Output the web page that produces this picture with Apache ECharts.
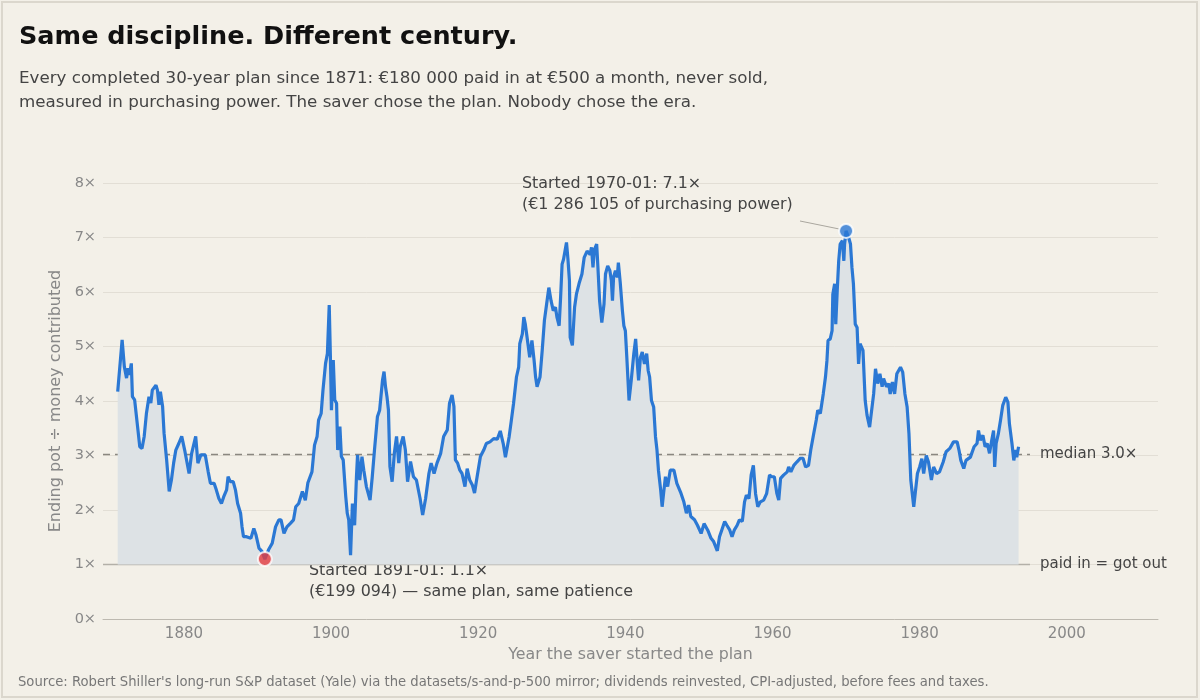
<!DOCTYPE html>
<html>
<head>
<meta charset="utf-8">
<script src="https://cdn.jsdelivr.net/npm/echarts@6/dist/echarts.min.js"></script>
<style>
  html, body { margin: 0; padding: 0; background: #f3f0e8; }
  #chart { width: 1200px; height: 700px; }
</style>
</head>
<body>
<div id="chart"></div>
<script>
// year the plan started (fractional) and ending pot / money paid in
var startYears = [
  1871.0, 1871.6, 1871.9, 1872.2, 1872.4, 1872.6, 1872.85, 1873.0, 1873.3, 1873.7,
  1874.0, 1874.3, 1874.6, 1874.9, 1875.25, 1875.5, 1875.7, 1876.2, 1876.4, 1876.6,
  1876.8, 1877.1, 1877.3, 1877.65, 1878.0, 1878.3, 1878.6, 1878.9, 1879.3, 1879.7,
  1880.1, 1880.7, 1881.05, 1881.6, 1881.9, 1882.3, 1882.9, 1883.3, 1883.6, 1884.1,
  1884.4, 1884.75, 1885.1, 1885.4, 1885.8, 1886.0, 1886.3, 1886.7, 1887.0, 1887.3,
  1887.7, 1887.9, 1888.1, 1888.5, 1889.1, 1889.5, 1889.8, 1890.2, 1890.6, 1891.0,
  1891.5, 1892.0, 1892.45, 1892.9, 1893.2, 1893.6, 1894.0, 1894.5, 1894.9, 1895.2,
  1895.6, 1896.1, 1896.5, 1896.85, 1897.4, 1897.75, 1898.1, 1898.3, 1898.65, 1898.9,
  1899.25, 1899.5, 1899.75, 1899.9, 1900.05, 1900.3, 1900.5, 1900.75, 1900.9, 1901.2,
  1901.4, 1901.65, 1902.0, 1902.2, 1902.4, 1902.65, 1902.9, 1903.2, 1903.45, 1903.6,
  1903.9, 1904.2, 1904.45, 1904.8, 1905.3, 1905.6, 1905.9, 1906.3, 1906.6, 1907.0,
  1907.2, 1907.4, 1907.6, 1907.8, 1908.0, 1908.3, 1908.6, 1908.9, 1909.2, 1909.4,
  1909.8, 1910.1, 1910.4, 1910.8, 1911.2, 1911.6, 1912.1, 1912.45, 1912.85, 1913.3,
  1913.6, 1914.0, 1914.4, 1914.9, 1915.3, 1915.8, 1916.1, 1916.45, 1916.7, 1916.9,
  1917.2, 1917.5, 1917.8, 1918.2, 1918.5, 1918.85, 1919.2, 1919.5, 1919.85, 1920.3,
  1920.75, 1921.1, 1921.6, 1922.1, 1922.6, 1923.0, 1923.4, 1923.7, 1924.2, 1924.5,
  1924.8, 1925.2, 1925.5, 1925.65, 1926.0, 1926.2, 1926.4, 1926.7, 1927.0, 1927.3,
  1927.6, 1927.8, 1928.0, 1928.4, 1928.7, 1929.0, 1929.3, 1929.6, 1929.9, 1930.2,
  1930.5, 1930.7, 1931.0, 1931.2, 1931.4, 1931.6, 1932.0, 1932.2, 1932.4, 1932.5,
  1932.8, 1933.1, 1933.35, 1933.7, 1933.9, 1934.1, 1934.4, 1934.8, 1935.2, 1935.4,
  1935.6, 1935.8, 1936.1, 1936.25, 1936.5, 1936.8, 1937.1, 1937.3, 1937.6, 1937.9,
  1938.1, 1938.25, 1938.4, 1938.65, 1938.9, 1939.05, 1939.3, 1939.6, 1939.8, 1940.0,
  1940.2, 1940.5, 1940.8, 1941.15, 1941.4, 1941.6, 1941.8, 1942.05, 1942.3, 1942.6,
  1942.9, 1943.1, 1943.3, 1943.55, 1943.85, 1944.1, 1944.3, 1944.5, 1944.8, 1945.0,
  1945.2, 1945.45, 1945.75, 1946.1, 1946.6, 1947.0, 1947.5, 1947.95, 1948.3, 1948.6,
  1948.9, 1949.4, 1949.8, 1950.3, 1950.7, 1951.2, 1951.65, 1952.0, 1952.5, 1952.8,
  1953.1, 1953.5, 1953.8, 1954.2, 1954.5, 1954.8, 1955.2, 1955.5, 1955.9, 1956.2,
  1956.45, 1956.8, 1957.1, 1957.4, 1957.7, 1958.0, 1958.35, 1958.8, 1959.2, 1959.6,
  1959.9, 1960.25, 1960.6, 1960.85, 1961.1, 1961.5, 1962.0, 1962.2, 1962.5, 1962.9,
  1963.3, 1963.8, 1964.15, 1964.5, 1964.9, 1965.2, 1965.6, 1965.95, 1966.15, 1966.5,
  1966.9, 1967.2, 1967.4, 1967.55, 1967.85, 1968.1, 1968.2, 1968.45, 1968.6, 1968.8,
  1969.0, 1969.2, 1969.5, 1969.7, 1969.8, 1970.0, 1970.35, 1970.6, 1970.8, 1971.0,
  1971.25, 1971.5, 1971.7, 1971.9, 1972.3, 1972.6, 1972.85, 1973.2, 1973.75, 1974.0,
  1974.3, 1974.6, 1974.9, 1975.1, 1975.5, 1975.8, 1976.0, 1976.3, 1976.6, 1976.9,
  1977.4, 1977.7, 1978.0, 1978.3, 1978.55, 1978.8, 1979.2, 1979.5, 1979.7, 1980.0,
  1980.3, 1980.55, 1980.9, 1981.2, 1981.6, 1981.9, 1982.3, 1982.7, 1983.2, 1983.6,
  1984.1, 1984.6, 1985.1, 1985.35, 1985.6, 1986.0, 1986.3, 1986.9, 1987.4, 1987.8,
  1988.0, 1988.25, 1988.6, 1988.9, 1989.2, 1989.5, 1989.8, 1990.05, 1990.2, 1990.4,
  1990.7, 1991.0, 1991.3, 1991.7, 1992.0, 1992.2, 1992.55, 1992.8, 1993.05, 1993.2,
  1993.45
];
var multiples = [
  4.17, 5.12, 4.63, 4.42, 4.60, 4.48, 4.69, 4.08, 4.02, 3.53,
  3.16, 3.13, 3.35, 3.77, 4.08, 3.96, 4.20, 4.29, 4.20, 3.93,
  4.17, 3.90, 3.41, 2.92, 2.34, 2.55, 2.86, 3.10, 3.22, 3.35,
  3.10, 2.67, 3.04, 3.35, 2.86, 3.01, 3.01, 2.70, 2.49, 2.49,
  2.37, 2.21, 2.12, 2.24, 2.37, 2.61, 2.52, 2.52, 2.37, 2.12,
  1.94, 1.69, 1.51, 1.51, 1.48, 1.66, 1.54, 1.30, 1.24, 1.10,
  1.27, 1.39, 1.69, 1.82, 1.82, 1.57, 1.69, 1.76, 1.82, 2.06,
  2.12, 2.34, 2.18, 2.50, 2.70, 3.19, 3.35, 3.65, 3.77, 4.20,
  4.69, 4.87, 5.76, 4.87, 3.83, 4.75, 4.02, 3.96, 3.10, 3.53,
  2.98, 2.92, 2.24, 1.94, 1.82, 1.17, 2.12, 1.72, 2.61, 3.01,
  2.55, 2.98, 2.73, 2.43, 2.18, 2.61, 3.10, 3.71, 3.83, 4.39,
  4.54, 4.26, 4.08, 3.83, 2.80, 2.52, 3.04, 3.35, 2.86, 3.16,
  3.35, 3.10, 2.52, 2.89, 2.61, 2.55, 2.21, 1.91, 2.21, 2.67,
  2.86, 2.67, 2.86, 3.04, 3.35, 3.47, 3.96, 4.11, 3.90, 2.92,
  2.86, 2.73, 2.67, 2.43, 2.76, 2.55, 2.46, 2.31, 2.61, 2.98,
  3.10, 3.22, 3.25, 3.31, 3.30, 3.45, 3.22, 2.97, 3.34, 3.64,
  3.95, 4.44, 4.62, 5.05, 5.23, 5.54, 5.41, 5.11, 4.80, 5.11,
  4.74, 4.44, 4.26, 4.44, 4.93, 5.48, 5.78, 6.08, 5.84, 5.66,
  5.72, 5.54, 5.38, 5.90, 6.51, 6.60, 6.91, 6.60, 6.21, 5.17,
  5.02, 5.72, 5.96, 6.15, 6.15, 6.33, 6.63, 6.75, 6.69, 6.82,
  6.45, 6.78, 6.88, 6.51, 5.84, 5.44, 5.78, 6.33, 6.48, 6.39,
  6.21, 5.84, 6.27, 6.39, 6.27, 6.54, 6.18, 5.66, 5.38, 5.29,
  4.80, 4.01, 4.38, 4.87, 5.14, 4.74, 4.38, 4.80, 4.90, 4.68,
  4.87, 4.56, 4.44, 4.01, 3.89, 3.34, 3.10, 2.73, 2.37, 2.06,
  2.31, 2.61, 2.43, 2.73, 2.73, 2.49, 2.33, 2.15, 1.94, 2.09,
  1.88, 1.82, 1.72, 1.57, 1.75, 1.63, 1.48, 1.42, 1.25, 1.51,
  1.63, 1.79, 1.72, 1.63, 1.51, 1.63, 1.72, 1.82, 1.79, 2.15,
  2.27, 2.21, 2.64, 2.82, 2.30, 2.06, 2.15, 2.18, 2.30, 2.64,
  2.61, 2.61, 2.30, 2.18, 2.58, 2.64, 2.70, 2.79, 2.70, 2.82,
  2.88, 2.95, 2.95, 2.79, 2.82, 3.10, 3.40, 3.65, 3.83, 3.77,
  4.13, 4.44, 4.74, 5.11, 5.14, 5.29, 5.96, 6.15, 5.41, 6.03,
  6.57, 6.88, 6.94, 6.57, 6.88, 7.12, 7.00, 6.88, 6.45, 6.15,
  5.41, 5.35, 4.68, 5.05, 4.93, 4.01, 3.74, 3.52, 4.13, 4.59,
  4.32, 4.50, 4.26, 4.41, 4.26, 4.32, 4.13, 4.35, 4.13, 4.50,
  4.62, 4.53, 4.13, 3.89, 3.40, 2.55, 2.06, 2.43, 2.67, 2.79,
  2.94, 2.67, 3.00, 2.88, 2.55, 2.79, 2.67, 2.70, 2.88, 3.07,
  3.13, 3.25, 3.25, 3.10, 2.91, 2.76, 2.91, 2.97, 3.16, 3.22,
  3.46, 3.28, 3.37, 3.16, 3.22, 3.04, 3.28, 3.46, 2.79, 3.22,
  3.40, 3.65, 3.92, 4.07, 3.98, 3.59, 3.22, 2.91, 3.10, 2.97,
  3.16
];
var xTicks = [1880, 1900, 1920, 1940, 1960, 1980, 2000];
var medianMultiple = 3.02;
var best = [1970.0, 7.12];
var worst = [1891.0, 1.10];

var FONT = '"DejaVu Sans", sans-serif';
var points = [];
for (var i = 0; i < startYears.length; i++) points.push([startYears[i], multiples[i]]);

var chart = echarts.init(document.getElementById('chart'));
var option = {
  backgroundColor: '#f3f0e8',
  animation: false,
  textStyle: { fontFamily: FONT },
  title: {
    text: 'Same discipline. Different century.',
    subtext: 'Every completed 30-year plan since 1871: €180 000 paid in at €500 a month, never sold,\nmeasured in purchasing power. The saver chose the plan. Nobody chose the era.',
    left: 14,
    top: 19,
    itemGap: 17,
    textStyle: { fontFamily: FONT, fontSize: 25.5, fontWeight: 'bold', color: '#111' },
    subtextStyle: { fontFamily: FONT, fontSize: 16.7, color: '#444', lineHeight: 24 }
  },
  grid: { left: 103, right: 42, top: 183, bottom: 81 },
  xAxis: {
    type: 'value',
    min: 1869,
    max: 2012.4,
    name: 'Year the saver started the plan',
    nameLocation: 'middle',
    nameGap: 28,
    nameTextStyle: { fontFamily: FONT, fontSize: 15.8, color: '#888' },
    axisLine: { lineStyle: { color: '#bdb9b0' } },
    axisTick: { show: false },
    splitLine: { show: false },
    axisLabel: {
      customValues: xTicks,
      fontFamily: FONT, fontSize: 15, color: '#888', margin: 8,
      formatter: function (v) { return String(v); }
    }
  },
  yAxis: {
    type: 'value',
    min: 0,
    max: 8,
    interval: 1,
    name: 'Ending pot ÷ money contributed',
    nameLocation: 'middle',
    nameGap: 35,
    nameTextStyle: { fontFamily: FONT, fontSize: 16, color: '#888' },
    axisLine: { show: false },
    axisTick: { show: false },
    splitLine: { lineStyle: { color: '#e2ded5', width: 1 } },
    axisLabel: { fontFamily: FONT, fontSize: 14.5, color: '#888', margin: 7, formatter: '{value}×' }
  },
  series: [
    {
      type: 'line',
      data: points,
      showSymbol: false,
      lineStyle: { color: '#2b78d4', width: 3.2 },
      itemStyle: { color: '#2b78d4' },
      areaStyle: { color: '#dde2e5', opacity: 1, origin: 1 },
      z: 3,
      markLine: {
        silent: true,
        symbol: 'none',
        animation: false,
        z: 2,
        data: [
          [
            { coord: [1869, medianMultiple], lineStyle: { color: '#8a8780', type: [7, 5], width: 1.3 },
              label: { show: true, position: 'end', distance: 10, formatter: 'median 3.0×', fontFamily: FONT, fontSize: 15, color: '#444' } },
            { coord: [1995, medianMultiple] }
          ],
          [
            { coord: [1869, 1], lineStyle: { color: '#b3b0a8', type: 'solid', width: 1.3 },
              label: { show: true, position: 'end', distance: 10, formatter: 'paid in = got out', fontFamily: FONT, fontSize: 15, color: '#444' } },
            { coord: [1995, 1] }
          ]
        ]
      }
    },
    {
      type: 'scatter',
      data: [best],
      symbolSize: 14,
      itemStyle: { color: '#2b78d4', borderColor: '#ffffff', borderWidth: 2 },
      z: 5
    },
    {
      type: 'scatter',
      data: [worst],
      symbolSize: 14,
      itemStyle: { color: '#e53b3e', borderColor: '#ffffff', borderWidth: 2 },
      z: 5
    }
  ]
};
chart.setOption(option);

var pBest = chart.convertToPixel({ gridIndex: 0 }, best);
var pWorst = chart.convertToPixel({ gridIndex: 0 }, worst);
var noteStyle = { fontFamily: FONT, fontSize: 15.9, fill: '#444', lineHeight: 21 };

chart.setOption({
  graphic: [
    { type: 'rect', shape: { x: 2, y: 2, width: 1195, height: 695 },
      style: { fill: 'none', stroke: '#dbd7cd', lineWidth: 2 }, silent: true },
    { type: 'line', shape: { x1: pBest[0] - 7, y1: pBest[1] - 2, x2: 800, y2: 221 },
      style: { stroke: '#aaa79f', lineWidth: 1 }, z: 1 },
    { type: 'line', shape: { x1: pWorst[0] + 7, y1: pWorst[1] + 1, x2: 304, y2: 564 },
      style: { stroke: '#aaa79f', lineWidth: 1 }, z: 1 },
    { type: 'text', left: 522, top: 173,
      style: Object.assign({ text: 'Started 1970-01: 7.1×\n(€1 286 105 of purchasing power)' }, noteStyle) },
    { type: 'text', left: 309, top: 560,
      style: Object.assign({ text: 'Started 1891-01: 1.1×\n(€199 094) — same plan, same patience' }, noteStyle) },
    { type: 'text', left: 18, top: 676,
      style: { text: 'Source: Robert Shiller\'s long-run S&P dataset (Yale) via the datasets/s-and-p-500 mirror; dividends reinvested, CPI-adjusted, before fees and taxes.',
        fontFamily: FONT, fontSize: 13.2, fill: '#777' } }
  ]
});
</script>
</body>
</html>
